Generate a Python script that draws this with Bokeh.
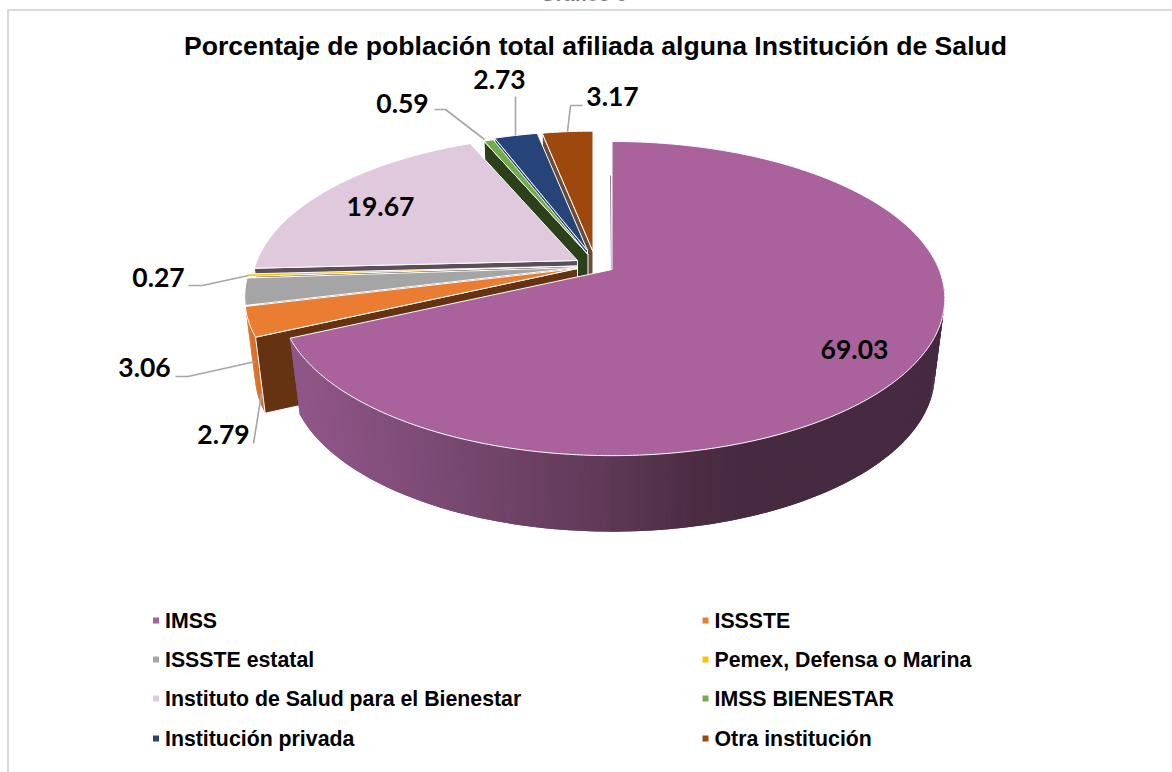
import numpy as np
from bokeh.plotting import figure
from bokeh.models import Range1d
from bokeh.core.properties import value
from bokeh.embed import file_html
from bokeh.resources import INLINE

# ---- data -------------------------------------------------------------
categories = ["IMSS", "ISSSTE", "ISSSTE estatal", "Pemex, Defensa o Marina",
              "Instituto de Salud para el Bienestar", "IMSS BIENESTAR",
              "Institución privada", "Otra institución"]
values = [69.03, 3.06, 2.79, 0.27, 19.67, 0.59, 2.73, 3.17]
title = "Porcentaje de población total afiliada alguna Institución de Salud"
clipped_title = "Gráfico 6"

# ---- styles -----------------------------------------------------------
top_colors = ["#A9629C", "#EA7D31", "#A5A5A5", "#FFC000", "#E0C9DC", "#70AD47", "#264478", "#9E480E"]
face_colors = [None, "#653312", None, None, "#5B4D59", "#2C4019", "#264478", "#6B4B3A"]
wall_colors = [None, "#D9702A", None, None, None, None, None, None]

# ---- layout: exploded centre (px) and radius scale of every slice ------
apex_x = [611.5, 577, 577, 577, 577, 587.5, 587, 592.5]
apex_y = [269, 268, 267, 265.5, 260, 254, 250, 251]
radius = [1.0, 1.0, 1.0, 1.0, 0.98, 0.95, 0.93, 0.94]
A, B, K = 327.0, 151.7, 0.185   # projected disc: half-axes and perspective
DEPTH, SHRINK = 76.0, 0.97      # height of the pie, narrowing of its lower rim
FRONT = (85.0, 256.6)           # angles whose outer wall faces the viewer

label_text = ["69.03", "3.06", "2.79", "0.27", "19.67", "0.59", "2.73", "3.17"]
label_x = [854, 144, 223, 158, 380, 402, 499, 612]
label_y = [349, 367, 434, 277, 206, 103, 79, 96]
leaders = [
    ([175, 187.5, 255], [376, 376, 361]),
    ([253, 261], [443, 393]),
    ([188, 202, 248], [285, 285, 275]),
    ([434, 445, 484], [109, 109, 139]),
    ([515, 515], [96, 135]),
    ([582, 570, 567], [105, 105, 131]),
]
legend_rows = [620, 659, 698, 738]
legend_cols = [155.5, 705]
LEGEND_TEXT_DX = 9


def rim(theta, i):
    t = np.radians(theta)
    d = 1 + K * np.cos(t)
    return (apex_x[i] + radius[i] * A * np.sin(t) / d,
            apex_y[i] - radius[i] * B * np.cos(t) / d)


def low(x, y, i):
    return apex_x[i] + SHRINK * (x - apex_x[i]), y + DEPTH


purple_stops_x = [300, 440, 540, 600, 690, 760, 950]
purple_stops = np.array([[0x90, 0x56, 0x88], [0x7A, 0x4A, 0x73], [0x6A, 0x3F, 0x62],
                         [0x60, 0x3A, 0x58], [0x4C, 0x2D, 0x44], [0x45, 0x2A, 0x40],
                         [0x47, 0x2B, 0x42]])


def purple_wall(x):
    c = [int(np.interp(x, purple_stops_x, purple_stops[:, k])) for k in range(3)]
    return "#%02x%02x%02x" % tuple(c)


p = figure(width=1172, height=772, output_backend="svg", toolbar_location=None,
           x_range=Range1d(0, 1172), y_range=Range1d(772, 0),
           x_axis_type=None, y_axis_type=None, min_border=0, margin=0)
p.grid.visible = False
p.outline_line_color = None
p.background_fill_color = "white"

# chart frame
p.line([1172, 7.5, 7.5], [9.5, 9.5, 772], line_color="#D9D9D9", line_width=2)

# slices, far to near
total = sum(values)
edges = np.concatenate([[0], np.cumsum(values)]) / total * 360
order = [7, 6, 5, 4, 3, 2, 1, 0]
for i in order:
    a0, a1 = edges[i], edges[i + 1]
    th = np.linspace(a0, a1, max(3, int((a1 - a0) * 2)))
    xs, ys = rim(th, i)
    # outer wall
    if i in (0, 1):
        lo, hi = max(a0, FRONT[0]), min(a1, FRONT[1])
        if hi > lo:
            grid = np.arange(lo, hi + 0.75, 0.75)
            grid[-1] = hi
            wx, wy, wc = [], [], []
            for j, (t0, t1) in enumerate(zip(grid[:-1], grid[1:])):
                t2 = min(t1 + 0.75, hi)   # overlap the next quad: no seams
                x0, y0 = rim(t0, i)
                x1, y1 = rim(t2, i)
                bx0, by0 = low(x0, y0, i)
                bx1, by1 = low(x1, y1, i)
                wx.append([x0, x1, bx1, bx0])
                wy.append([y0, y1, by1, by0])
                wc.append(purple_wall((x0 + x1) / 2) if i == 0 else wall_colors[i])
            p.patches(wx, wy, fill_color=wc, line_color=None)
    # radial cut face
    if face_colors[i]:
        x0, y0 = rim(a0, i)
        bx0, by0 = low(x0, y0, i)
        p.patch([apex_x[i], x0, bx0, apex_x[i]], [apex_y[i], y0, by0, apex_y[i] + DEPTH],
                fill_color=face_colors[i], line_color="white", line_width=1.0)
    # top
    if i == 0:
        x0, y0 = rim(a0, i)
        p.line([x0 - 1.5, apex_x[i] - 0.5], [y0 + 34, apex_y[i]], line_color="#8A7A87", line_width=1)
    p.patch(np.concatenate([[apex_x[i]], xs]), np.concatenate([[apex_y[i]], ys]),
            fill_color=top_colors[i], line_color="white", line_width=1.0, line_join="miter")

# leader lines
for lx, ly in leaders:
    p.line(lx, ly, line_color="#A6A6A6", line_width=1.6)

# data labels
p.text(label_x, label_y, text=label_text, text_font=value("Lato"), text_font_style="bold",
       text_font_size="26.5px", text_color="black", text_align="center", text_baseline="middle")

# titles
p.text([583], [-7], text=[clipped_title], text_font=value("Liberation Sans"), text_font_style="bold",
       text_font_size="20px", text_color="black", text_align="center", text_baseline="alphabetic")
p.text([595], [45], text=[title], text_font=value("Liberation Sans"), text_font_style="bold",
       text_font_size="26.6px", text_color="black", text_align="center", text_baseline="middle")

# legend
lx = [legend_cols[k % 2] for k in range(len(categories))]
ly = [legend_rows[k // 2] for k in range(len(categories))]
p.rect(lx, ly, width=6, height=6, fill_color=top_colors, line_color=None)
p.text([x + LEGEND_TEXT_DX for x in lx], ly, text=categories, text_font=value("Liberation Sans"),
       text_font_style="bold", text_font_size="21.3px", text_color="black",
       text_align="left", text_baseline="middle")

open("out.html", "w").write(file_html(p, INLINE))
